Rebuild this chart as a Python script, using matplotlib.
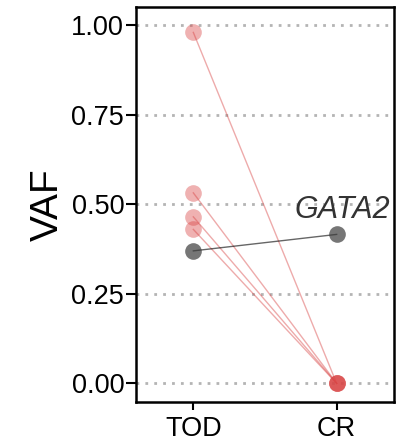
import matplotlib
matplotlib.use("Agg")
import matplotlib.pyplot as plt

plt.rcParams["font.family"] = ["Liberation Sans", "DejaVu Sans"]

# timepoints and VAF per mutation
timepoints = ["TOD", "CR"]
red_tod = [0.98, 0.532, 0.465, 0.430]
red_cr = [0.0, 0.0, 0.0, 0.0]
gata2_vaf = [0.370, 0.416]
gata2_label = "GATA2"

red = "#D94545"
grey = "#333333"

fig = plt.figure(figsize=(4.11, 4.41), dpi=100)
ax = fig.add_axes([136 / 411, 1 - 402 / 441, (394 - 136) / 411, (402 - 7) / 441])

for y in [0, 0.25, 0.5, 0.75, 1.0]:
    ax.axhline(y, color="#b4b4b4", lw=2, ls=(0, (1, 2.2)), zorder=0)

x = [1, 2]
for a, b in zip(red_tod, red_cr):
    ax.plot(x, [a, b], color=red, lw=1, alpha=0.45, zorder=2)
    ax.plot(x, [a, b], "o", color=red, ms=12, alpha=0.42, mec="none", zorder=3)

ax.plot(x, gata2_vaf, color="black", lw=1, alpha=0.6, zorder=2)
ax.plot(x, gata2_vaf, "o", color="#3c3c3c", ms=12, alpha=0.7, mec="none", zorder=3)
ax.text(2.04, 0.484, gata2_label, style="italic", fontsize=22, color=grey,
        ha="center", va="center")

ax.set_xlim(0.6, 2.4)
ax.set_ylim(-0.052, 1.051)
ax.set_xticks(x)
ax.set_xticklabels(timepoints)
ax.set_yticks([0, 0.25, 0.5, 0.75, 1.0])
ax.set_yticklabels(["0.00", "0.25", "0.50", "0.75", "1.00"])
ax.set_ylabel("VAF", fontsize=28, labelpad=4)
ax.tick_params(labelsize=19.5, width=1.5, color="black")
ax.tick_params(axis="y", length=7.5, pad=1)
ax.tick_params(axis="x", length=6, pad=4)
for s in ax.spines.values():
    s.set_linewidth(1.8)

fig.savefig("out.png", dpi=100)
